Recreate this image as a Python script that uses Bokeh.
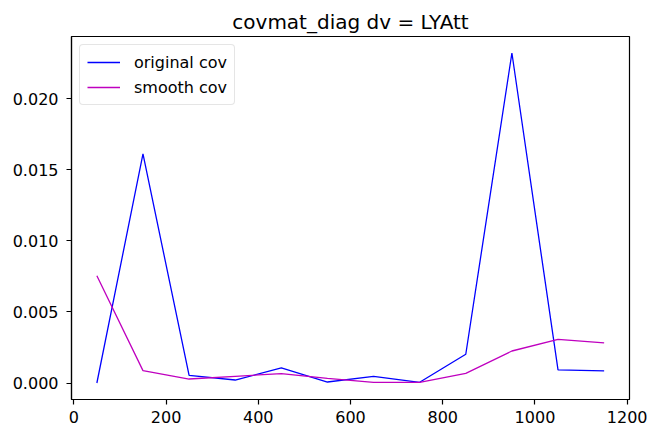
from bokeh.plotting import figure
from bokeh.models import Range1d, FixedTicker, NumeralTickFormatter, Legend, LegendItem
from bokeh.embed import file_html
from bokeh.resources import INLINE

# chart data
dv = [50, 150, 250, 350, 450, 550, 650, 750, 850, 950, 1050, 1150]
original_cov = [0.0, 0.0161, 0.00054, 0.00021, 0.00106, 0.00007,
                0.00047, 0.00005, 0.00202, 0.0232, 0.00092, 0.00085]
smooth_cov = [0.00754, 0.00087, 0.00028, 0.00047, 0.00066, 0.00033,
              0.00005, 0.00005, 0.00068, 0.00225, 0.00307, 0.00282]
x_ticks = [0, 200, 400, 600, 800, 1000, 1200]
y_ticks = [0.0, 0.005, 0.010, 0.015, 0.020]

FONT = "DejaVu Sans"

p = figure(width=659, height=441, frame_width=558, frame_height=363,
           output_backend="svg", toolbar_location=None,
           title="covmat_diag dv = LYAtt",
           x_range=Range1d(-5, 1205), y_range=Range1d(-0.00116, 0.02436),
           min_border_left=71, min_border_right=30, min_border_top=36, min_border_bottom=42)

p.title.align = "center"
p.title.text_font = FONT
p.title.text_font_size = "20px"
p.title.text_font_style = "normal"
p.title.text_color = "black"
p.title.standoff = 6

p.xgrid.visible = False
p.ygrid.visible = False
p.outline_line_color = "black"
p.outline_line_width = 1.2

for ax in (p.xaxis[0], p.yaxis[0]):
    ax.major_label_text_font = FONT
    ax.major_label_text_font_size = "16px"
    ax.major_label_text_color = "black"
    ax.axis_line_color = "black"
    ax.axis_line_width = 1.2
    ax.major_tick_line_color = "black"
    ax.major_tick_line_width = 1.2
    ax.major_tick_in = 0
    ax.major_tick_out = 5
    ax.minor_tick_line_color = None

p.xaxis.ticker = FixedTicker(ticks=x_ticks)
p.yaxis.ticker = FixedTicker(ticks=y_ticks)
p.yaxis.formatter = NumeralTickFormatter(format="0.000")
p.xaxis.major_label_standoff = 6
p.yaxis.major_label_standoff = 8

r1 = p.line(dv, original_cov, line_color="#0000ff", line_width=1.3)
r2 = p.line(dv, smooth_cov, line_color="#bf00bf", line_width=1.3)

legend = Legend(items=[LegendItem(label="original cov", renderers=[r1]),
                       LegendItem(label="smooth cov", renderers=[r2])],
                location="top_left")
legend.margin = 8
legend.padding = 7
legend.spacing = 5
legend.glyph_width = 33
legend.glyph_height = 20
legend.label_height = 20
legend.label_standoff = 14
legend.label_text_font = FONT
legend.label_text_font_size = "16px"
legend.label_text_color = "black"
legend.border_line_color = "#cccccc"
legend.border_line_width = 1
legend.border_radius = 4
legend.background_fill_alpha = 0.8
p.add_layout(legend)

open("out.html", "w").write(file_html(p, INLINE))
